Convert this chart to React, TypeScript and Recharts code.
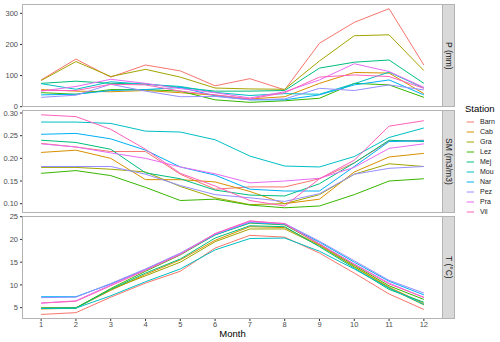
import React from 'react';
import { LineChart, Line, XAxis, YAxis } from 'recharts';

const MONTHS = [1, 2, 3, 4, 5, 6, 7, 8, 9, 10, 11, 12];
const STATIONS = ['Barn', 'Cab', 'Gra', 'Lez', 'Mej', 'Mou', 'Nar', 'Pez', 'Pra', 'Vil'];
const COLORS = ['#F8766D', '#D89000', '#A3A500', '#39B600', '#00BF7D', '#00BFC4', '#00B0F6', '#9590FF', '#E76BF3', '#FF62BC'];

// Precipitation (mm), one row per station in STATIONS order
const P_VALUES = [
  [86, 153, 95, 134, 115, 67, 90, 54, 204, 271, 315, 134],
  [55, 50, 48, 52, 45, 37, 25, 32, 75, 110, 108, 42],
  [84, 145, 97, 120, 95, 60, 57, 56, 147, 228, 231, 116],
  [45, 40, 55, 55, 50, 22, 14, 19, 27, 75, 70, 30],
  [75, 82, 75, 73, 62, 50, 50, 52, 124, 143, 150, 75],
  [74, 56, 80, 72, 65, 46, 36, 42, 40, 74, 111, 60],
  [38, 40, 52, 55, 62, 35, 22, 22, 38, 70, 86, 38],
  [30, 37, 72, 50, 32, 33, 22, 25, 59, 52, 70, 54],
  [50, 65, 88, 75, 58, 45, 28, 48, 86, 138, 113, 62],
  [52, 52, 72, 70, 50, 38, 25, 45, 95, 102, 97, 59],
];

// Soil moisture (m3/m3)
const SM_VALUES = [
  [0.233, 0.225, 0.215, 0.215, 0.165, 0.132, 0.137, 0.137, 0.155, 0.190, 0.238, 0.240],
  [0.213, 0.218, 0.200, 0.153, 0.153, 0.148, 0.127, 0.100, 0.110, 0.170, 0.203, 0.211],
  [0.180, 0.180, 0.176, 0.170, 0.138, 0.113, 0.098, 0.100, 0.120, 0.165, 0.188, 0.182],
  [0.167, 0.173, 0.162, 0.136, 0.107, 0.110, 0.097, 0.091, 0.095, 0.120, 0.150, 0.155],
  [0.240, 0.235, 0.220, 0.168, 0.155, 0.130, 0.119, 0.117, 0.144, 0.190, 0.240, 0.237],
  [0.280, 0.280, 0.277, 0.260, 0.258, 0.241, 0.205, 0.183, 0.181, 0.204, 0.246, 0.267],
  [0.253, 0.255, 0.243, 0.218, 0.181, 0.163, 0.132, 0.128, 0.128, 0.182, 0.237, 0.239],
  [0.182, 0.182, 0.182, 0.165, 0.140, 0.120, 0.113, 0.105, 0.122, 0.165, 0.178, 0.182],
  [0.232, 0.225, 0.212, 0.200, 0.181, 0.166, 0.146, 0.150, 0.156, 0.180, 0.222, 0.232],
  [0.296, 0.292, 0.264, 0.220, 0.167, 0.139, 0.107, 0.095, 0.155, 0.196, 0.271, 0.283],
];

// Temperature (°C)
const T_VALUES = [
  [3.5, 3.9, 7.3, 10.4, 13.0, 18.1, 20.9, 20.5, 17.0, 12.6, 8.0, 4.6],
  [4.7, 4.9, 8.8, 12.3, 15.5, 19.8, 22.8, 22.6, 18.8, 14.0, 9.5, 5.9],
  [5.0, 5.0, 9.0, 12.0, 15.0, 19.5, 22.3, 22.3, 18.6, 14.0, 9.3, 5.6],
  [4.8, 4.9, 9.2, 13.0, 16.6, 21.0, 23.6, 23.2, 19.0, 14.3, 9.8, 6.8],
  [4.9, 4.9, 9.0, 12.6, 15.7, 20.3, 23.0, 22.8, 18.4, 13.7, 9.0, 6.2],
  [4.8, 4.9, 7.6, 10.7, 13.5, 17.7, 20.2, 20.3, 17.4, 13.5, 9.3, 5.7],
  [7.4, 7.4, 10.2, 13.4, 16.8, 21.0, 23.7, 23.3, 19.4, 15.0, 10.8, 7.8],
  [7.2, 7.3, 10.3, 13.5, 17.0, 21.2, 23.8, 23.5, 19.6, 15.3, 11.0, 8.2],
  [6.0, 6.5, 10.0, 13.3, 16.8, 21.2, 24.0, 23.5, 19.0, 14.6, 10.4, 7.2],
  [6.0, 6.4, 9.8, 13.2, 16.7, 21.3, 24.1, 23.4, 19.0, 14.5, 10.2, 7.3],
];

const P_TICKS = [0, 100, 200, 300];
const SM_TICKS = [0.1, 0.15, 0.2, 0.25, 0.3];
const T_TICKS = [5, 10, 15, 20, 25];
const STRIP_LABELS = ['P (mm)', 'SM (m3/m3)', 'T (°C)'];
const X_LABEL = 'Month';
const LEGEND_TITLE = 'Station';

const FONT = '"Liberation Sans", Arial, Helvetica, sans-serif';
const PLOT_LEFT = 22;
const PLOT_RIGHT = 443;
const STRIP_W = 12;
const BORDER = '#B3B3B3';
const PAD = 6;

function toRows(values: number[][]) {
  return MONTHS.map((m, i) => {
    const r: Record<string, number> = { month: m };
    STATIONS.forEach((s, j) => {
      r[s] = values[j][i];
    });
    return r;
  });
}

type PanelProps = {
  values: number[][];
  ticks: number[];
  domain: [number, number];
  top: number;
  height: number;
  showX: boolean;
  fmt: (v: number) => string;
  label: string;
};

function Panel({ values, ticks, domain, top, height, showX, fmt, label }: PanelProps) {
  const data = toRows(values);
  const xH = 14;
  return (
    <>
      <div style={{ position: 'absolute', left: 0, top: top - PAD }}>
        <LineChart
          width={PLOT_RIGHT}
          height={height + 2 * PAD + (showX ? xH : 0)}
          data={data}
          margin={{ top: PAD, right: 0, left: 0, bottom: PAD }}
        >
          <XAxis
            dataKey="month"
            type="number"
            domain={[0.45, 12.55]}
            ticks={MONTHS}
            allowDataOverflow
            hide={!showX}
            height={xH}
            axisLine={false}
            tickLine={{ stroke: '#333333' }}
            tickSize={2}
            tickMargin={1}
            tick={{ fill: '#4D4D4D', fontSize: 7.5, fontFamily: FONT }}
            interval={0}
          />
          <YAxis
            type="number"
            domain={domain}
            ticks={ticks}
            allowDataOverflow
            width={PLOT_LEFT}
            axisLine={false}
            tickLine={{ stroke: '#333333' }}
            tickSize={2}
            tickMargin={2}
            tickFormatter={fmt}
            tick={{ fill: '#4D4D4D', fontSize: 7.5, fontFamily: FONT }}
            interval={0}
          />
          {STATIONS.map((s, j) => (
            <Line
              key={s}
              type="linear"
              dataKey={s}
              stroke={COLORS[j]}
              strokeWidth={1}
              dot={false}
              activeDot={false}
              isAnimationActive={false}
            />
          ))}
        </LineChart>
      </div>
      <div
        style={{
          position: 'absolute',
          left: PLOT_LEFT,
          top,
          width: PLOT_RIGHT - PLOT_LEFT,
          height,
          border: `1px solid ${BORDER}`,
          boxSizing: 'border-box',
          pointerEvents: 'none',
        }}
      />
      <div
        style={{
          position: 'absolute',
          left: PLOT_RIGHT - 1,
          top,
          width: STRIP_W + 1,
          height,
          background: '#D9D9D9',
          border: `1px solid ${BORDER}`,
          boxSizing: 'border-box',
          display: 'flex',
          alignItems: 'center',
          justifyContent: 'center',
          overflow: 'visible',
        }}
      >
        <span
          style={{
            writingMode: 'vertical-rl',
            fontSize: 8.5,
            color: '#1A1A1A',
            fontFamily: FONT,
            lineHeight: '10px',
            whiteSpace: 'nowrap',
          }}
        >
          {label}
        </span>
      </div>
    </>
  );
}

export default function App() {
  return (
    <div
      style={{
        position: 'absolute',
        left: 0,
        top: 0,
        width: 500,
        height: 342,
        background: '#FFFFFF',
        fontFamily: FONT,
        overflow: 'hidden',
      }}
    >
      <Panel
        values={P_VALUES}
        ticks={P_TICKS}
        domain={[-1, 330]}
        top={4}
        height={103}
        showX={false}
        fmt={(v) => String(v)}
        label={STRIP_LABELS[0]}
      />
      <Panel
        values={SM_VALUES}
        ticks={SM_TICKS}
        domain={[0.0795, 0.3066]}
        top={110}
        height={103}
        showX={false}
        fmt={(v) => v.toFixed(2)}
        label={STRIP_LABELS[1]}
      />
      <Panel
        values={T_VALUES}
        ticks={T_TICKS}
        domain={[2.5, 25.15]}
        top={216}
        height={103}
        showX={true}
        fmt={(v) => String(v)}
        label={STRIP_LABELS[2]}
      />
      <div
        style={{
          position: 'absolute',
          left: PLOT_LEFT,
          width: PLOT_RIGHT - PLOT_LEFT,
          top: 329,
          textAlign: 'center',
          fontSize: 9.5,
          lineHeight: '10px',
          color: '#000000',
        }}
      >
        {X_LABEL}
      </div>
      <div
        style={{
          position: 'absolute',
          left: 465,
          top: 103.5,
          fontSize: 9.5,
          lineHeight: '10px',
          color: '#000000',
          whiteSpace: 'nowrap',
        }}
      >
        {LEGEND_TITLE}
      </div>
      {STATIONS.map((s, j) => (
        <div
          key={s}
          style={{
            position: 'absolute',
            left: 465,
            top: 117.3 + j * 10,
            height: 10,
            display: 'flex',
            alignItems: 'center',
            whiteSpace: 'nowrap',
          }}
        >
          <svg width={15} height={10} style={{ display: 'block' }}>
            <line x1={1.7} x2={9} y1={5} y2={5} stroke={COLORS[j]} strokeWidth={1} />
          </svg>
          <span style={{ fontSize: 7, lineHeight: '10px', color: '#1A1A1A' }}>{s}</span>
        </div>
      ))}
    </div>
  );
}
